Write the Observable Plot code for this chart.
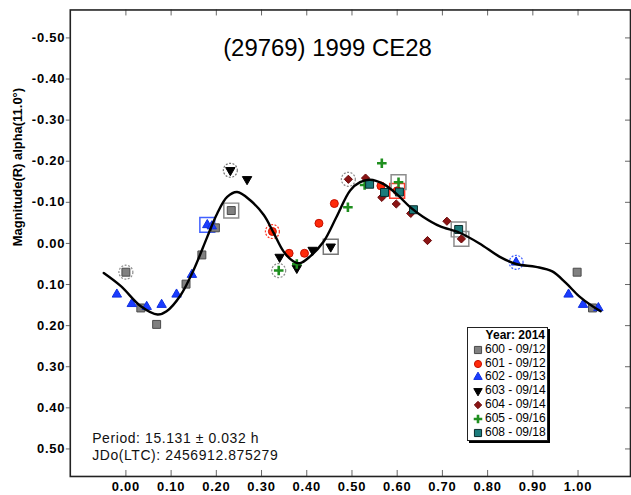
<!DOCTYPE html>
<html><head><meta charset="utf-8">
<script src="https://cdn.jsdelivr.net/npm/d3@7"></script>
<script src="https://cdn.jsdelivr.net/npm/@observablehq/plot@0.6"></script>
<style>
html,body{margin:0;padding:0;background:#fff;overflow:hidden;}
#wrap{position:relative;width:631px;height:495px;overflow:hidden;font-family:"Liberation Sans",Arial,sans-serif;}
#wrap svg{display:block;}
[aria-label="x-axis tick label"] text,[aria-label="y-axis tick label"] text{letter-spacing:0.8px;}
.note text{letter-spacing:0.6px;}
#legend{position:absolute;left:467px;top:327px;width:79px;border:1px solid #222;box-shadow:2px 2px 0 #000;background:#fff;font-size:12px;padding:1px 0 1px 0;color:#000;}
#legend .row{position:relative;height:13.8px;line-height:13.8px;white-space:nowrap;}
#legend .row svg{position:absolute;left:4px;top:1px;}
#legend .row span{position:absolute;left:17px;}
#legend .head{text-align:right;font-weight:bold;padding-right:2px;}
</style></head>
<body><div id="wrap"><div id="legend"></div></div>
<script>
// ---- text ----
const title = "(29769) 1999 CE28";
const yLabel = "Magnitude(R) alpha(11.0°)";
const periodLines = ["Period: 15.131 ± 0.032 h", "JDo(LTC): 2456912.875279"];
const legendTitle = "Year: 2014";
const xTicks = [0.0, 0.1, 0.2, 0.3, 0.4, 0.5, 0.6, 0.7, 0.8, 0.9, 1.0];
const yTicks = [-0.5, -0.4, -0.3, -0.2, -0.1, 0.0, 0.1, 0.2, 0.3, 0.4, 0.5];

// ---- sessions ----
const sessionIds = ["600", "601", "602", "603", "604", "605", "608"];
const sessionLabels = ["600 - 09/12", "601 - 09/12", "602 - 09/13", "603 - 09/14", "604 - 09/14", "605 - 09/16", "608 - 09/18"];

// ring: "c" = dashed circle, "b" = box, "" = none
const s600Phase = [0.000, 0.033, 0.068, 0.133, 0.168, 0.198, 0.233, 0.998, 1.032];
const s600Mag   = [0.070, 0.157, 0.197, 0.099, 0.028, -0.038, -0.080, 0.070, 0.157];
const s600Ring  = ["c", "", "", "", "", "", "b", "", ""];

const s601Phase = [0.324, 0.361, 0.395, 0.427, 0.461, 0.564, 0.600];
const s601Mag   = [-0.029, 0.024, 0.024, -0.049, -0.097, -0.140, -0.128];
const s601Ring  = ["c", "", "", "", "", "", "b"];

const s602Phase = [-0.020, 0.013, 0.046, 0.079, 0.112, 0.146, 0.180, 0.190, 0.863, 0.979, 1.011, 1.045];
const s602Mag   = [0.124, 0.147, 0.154, 0.149, 0.124, 0.076, -0.045, -0.042, 0.046, 0.124, 0.149, 0.157];
const s602Ring  = ["", "", "", "", "", "", "b", "", "c", "", "", ""];

const s603Phase = [0.231, 0.268, 0.340, 0.378, 0.413, 0.453];
const s603Mag   = [-0.178, -0.156, 0.033, 0.060, 0.016, 0.008];
const s603Ring  = ["c", "", "", "", "", "b"];

const s604Phase = [0.492, 0.530, 0.566, 0.598, 0.630, 0.667, 0.710, 0.742];
const s604Mag   = [-0.156, -0.159, -0.112, -0.096, -0.073, -0.007, -0.054, -0.011];
const s604Ring  = ["c", "", "", "", "", "", "", "b"];

const s605Phase = [0.338, 0.378, 0.491, 0.528, 0.566, 0.603];
const s605Mag   = [0.066, 0.050, -0.088, -0.142, -0.195, -0.149];
const s605Ring  = ["c", "", "", "", "", "b"];

const s608Phase = [0.539, 0.572, 0.605, 0.636, 0.736];
const s608Mag   = [-0.144, -0.124, -0.125, -0.082, -0.034];
const s608Ring  = ["", "", "", "", "b"];

// ---- fitted curve ----
const curvePhase = [-0.049, -0.011, 0.033, 0.070, 0.090, 0.121, 0.150, 0.180, 0.202, 0.224, 0.246, 0.275, 0.305, 0.327, 0.349, 0.371, 0.385, 0.407, 0.437, 0.466, 0.496, 0.518, 0.540, 0.569, 0.598, 0.628, 0.657, 0.694, 0.738, 0.782, 0.826, 0.863, 0.907, 0.943, 0.973, 1.002, 1.032, 1.050];
const curveMag   = [0.072, 0.104, 0.153, 0.173, 0.165, 0.126, 0.064, -0.016, -0.073, -0.113, -0.125, -0.105, -0.069, -0.025, 0.020, 0.044, 0.048, 0.032, -0.004, -0.065, -0.129, -0.149, -0.155, -0.145, -0.121, -0.089, -0.065, -0.042, -0.026, 0.000, 0.032, 0.050, 0.057, 0.068, 0.096, 0.128, 0.153, 0.165];

// ---- build tables ----
const seriesData = {
  "600": [s600Phase, s600Mag, s600Ring],
  "601": [s601Phase, s601Mag, s601Ring],
  "602": [s602Phase, s602Mag, s602Ring],
  "603": [s603Phase, s603Mag, s603Ring],
  "604": [s604Phase, s604Mag, s604Ring],
  "605": [s605Phase, s605Mag, s605Ring],
  "608": [s608Phase, s608Mag, s608Ring]
};
const styles = {
  "600": {symbol: "square", r: 4.5, fill: "#808080", stroke: "#4a4a4a", sw: 1, ring: "#8c8c8c", d3s: d3.symbolSquare},
  "601": {symbol: "circle", r: 4, fill: "#ff2a0a", stroke: "#c41000", sw: 1, ring: "#ff3a2a", d3s: d3.symbolCircle},
  "602": {symbol: "triangle", r: 3.5, fill: "#1a3cff", stroke: "#1030e0", sw: 1, ring: "#4060ff", d3s: d3.symbolTriangle},
  "603": {symbol: "triangle", r: 3.5, rotate: 180, fill: "#000", stroke: "#000", sw: 1, ring: "#777", d3s: d3.symbolTriangle},
  "604": {symbol: "diamond2", r: 3.7, fill: "#8b1414", stroke: "#6a0a0a", sw: 1, ring: "#8c8c8c", d3s: d3.symbolDiamond2},
  "605": {symbol: "plus", r: 3.2, fill: "none", stroke: "#1f8f1f", sw: 2.6, ring: "#8c8c8c", d3s: d3.symbolPlus},
  "608": {symbol: "square", r: 4.5, fill: "#1b7b7b", stroke: "#0a2a2a", sw: 1, ring: "#8c8c8c", d3s: d3.symbolSquare}
};
const points = [];
for (const id of sessionIds) {
  const [px, py, pr] = seriesData[id];
  px.forEach((x, i) => points.push({s: id, phase: x, mag: py[i], ring: pr[i]}));
}
const curve = curvePhase.map((x, i) => ({phase: x, mag: curveMag[i]}));

const font = "'Liberation Sans', Arial, sans-serif";
const markerMarks = sessionIds.map(id => {
  const st = styles[id];
  return Plot.dot(points.filter(d => d.s === id), {
    x: "phase", y: "mag", symbol: st.symbol, r: st.r,
    fill: st.fill, stroke: st.stroke, strokeWidth: st.sw, rotate: st.rotate || 0
  });
});

const chart = Plot.plot({
  width: 633, height: 495,
  marginLeft: 70, marginRight: 1, marginTop: 9.5, marginBottom: 17.5,
  x: {domain: [-0.123, 1.116]},
  y: {domain: [0.567, -0.568]},
  color: {type: "identity"},
  style: {fontFamily: font, background: "white", color: "#000"},
  marks: [
    // rings and boxes
    Plot.dot(points.filter(d => d.ring === "c"), {x: "phase", y: "mag", r: 7, fill: "none",
      stroke: d => styles[d.s].ring, strokeWidth: 1.2, strokeDasharray: "2,1.5"}),
    Plot.dot(points.filter(d => d.ring === "b"), {x: "phase", y: "mag", symbol: "square", r: 8.4, fill: "none",
      stroke: d => styles[d.s].ring, strokeWidth: 1.5}),
    ...markerMarks,
    Plot.line(curve, {x: "phase", y: "mag", curve: "catmull-rom", stroke: "#000", strokeWidth: 2.4}),
    // axes
    Plot.axisX({ticks: xTicks, tickSize: 0, tickPadding: 5, tickFormat: d => d.toFixed(2),
      fontWeight: "bold", fontSize: 13, label: null}),
    Plot.axisY({ticks: yTicks, tickSize: 4, tickPadding: 1, tickFormat: d => d.toFixed(2),
      fontWeight: "bold", fontSize: 13, label: null, stroke: "#666"}),
    Plot.tickX(xTicks, {x: d => d, insetTop: 462, stroke: "#666"}),
    Plot.tickX(xTicks, {x: d => d, insetBottom: 462, stroke: "#666"}),
    Plot.tickY(yTicks, {y: d => d, insetLeft: 557, stroke: "#666"}),
    Plot.frame({stroke: "#222", strokeWidth: 1.6}),
    // texts
    Plot.text([title], {frameAnchor: "top", dx: -23, dy: 38.5, lineAnchor: "middle", fontSize: 24, fill: "#000"}),
    Plot.text([yLabel], {frameAnchor: "left", rotate: -90, dx: -52.5, dy: 3, fontWeight: "bold", fontSize: 13, fill: "#000"}),
    Plot.text([periodLines.join("\n")], {frameAnchor: "bottom-left", dx: 22, dy: -16.5, textAnchor: "start",
      lineAnchor: "bottom", lineHeight: 1.21, fontSize: 14, fill: "#111", className: "note"})
  ]
});
document.getElementById("wrap").prepend(chart);

// ---- legend ----
const legend = document.getElementById("legend");
const head = document.createElement("div");
head.className = "row head";
head.textContent = legendTitle;
legend.appendChild(head);
sessionIds.forEach((id, i) => {
  const st = styles[id];
  const row = document.createElement("div");
  row.className = "row";
  const size = Math.PI * st.r * st.r * 0.8;
  const path = d3.symbol(st.d3s, size)();
  row.innerHTML = `<svg width="12" height="12" viewBox="-6 -6 12 12"><path d="${path}" fill="${st.fill}" stroke="${st.stroke}" stroke-width="${st.sw}" transform="rotate(${st.rotate || 0})"/></svg><span>${sessionLabels[i]}</span>`;
  legend.appendChild(row);
});
</script>
</body></html>
